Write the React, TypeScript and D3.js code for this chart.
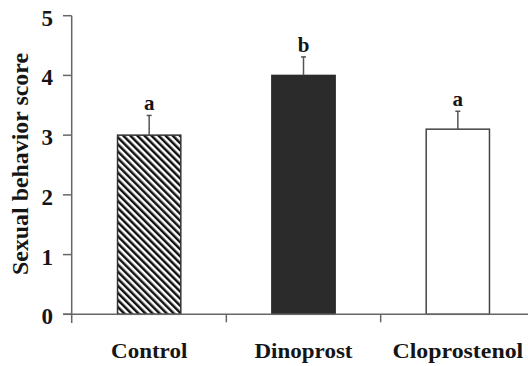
import React from "react";
import * as d3 from "d3";

const categories = ["Control", "Dinoprost", "Cloprostenol"];
const means = [3.0, 4.0, 3.1];
const errors = [0.33, 0.31, 0.3];
const letters = ["a", "b", "a"];
const yTicks = [0, 1, 2, 3, 4, 5];

const W = 528;
const H = 366;
const font = "'Liberation Serif', 'Times New Roman', serif";

export default function App() {
  const x = d3.scaleBand<string>().domain(categories).range([72, 535]);
  const y = d3.scaleLinear().domain([0, 5]).range([314.3, 15.7]);
  const barW = x.bandwidth() * 0.41;
  const axisColor = "#666";
  const ink = "#151515";

  const fills = ["url(#hatch)", "#2b2b2b", "#fff"];
  const strokes = ["#333", "#2b2b2b", "#444"];

  return (
    <svg
      width={W}
      height={H}
      style={{ position: "absolute", left: 0, top: 0, background: "#fff" }}
    >
      <defs>
        <pattern
          id="hatch"
          patternUnits="userSpaceOnUse"
          width={5}
          height={5}
          patternTransform="rotate(-45)"
        >
          <rect width={5} height={5} fill="#fff" />
          <rect width={2.5} height={5} fill="#111" />
        </pattern>
      </defs>

      {/* bars */}
      {categories.map((c, i) => {
        const cx = (x(c) as number) + x.bandwidth() / 2;
        return (
          <g key={c}>
            <rect
              x={cx - barW / 2}
              y={y(means[i])}
              width={barW}
              height={y(0) - y(means[i])}
              fill={fills[i]}
              stroke={strokes[i]}
              strokeWidth={1.5}
            />
            <line
              x1={cx}
              x2={cx}
              y1={y(means[i])}
              y2={y(means[i] + errors[i])}
              stroke="#555"
              strokeWidth={1.5}
            />
            <line
              x1={cx - 2.5}
              x2={cx + 2.5}
              y1={y(means[i] + errors[i])}
              y2={y(means[i] + errors[i])}
              stroke="#555"
              strokeWidth={1.5}
            />
            <text
              x={cx}
              y={y(means[i] + errors[i]) - 5}
              textAnchor="middle"
              fontFamily={font}
              fontWeight="bold"
              fontSize={21}
              fill={ink}
            >
              {letters[i]}
            </text>
            <text
              x={cx}
              y={358}
              textAnchor="middle"
              fontFamily={font}
              fontWeight="bold"
              fontSize={22}
              textLength={c.length * 10.9}
              lengthAdjust="spacingAndGlyphs"
              fill={ink}
            >
              {c}
            </text>
          </g>
        );
      })}

      {/* x axis */}
      <line x1={63} x2={W} y1={y(0)} y2={y(0)} stroke={axisColor} strokeWidth={1.5} />
      {categories.slice(1).map((c) => (
        <line
          key={c}
          x1={x(c) as number}
          x2={x(c) as number}
          y1={y(0)}
          y2={y(0) + 8}
          stroke={axisColor}
          strokeWidth={1.5}
        />
      ))}

      {/* y axis */}
      <line x1={71.7} x2={71.7} y1={y(5)} y2={323} stroke={axisColor} strokeWidth={1.5} />
      {yTicks.map((t) => (
        <g key={t}>
          <line x1={63} x2={71.7} y1={y(t)} y2={y(t)} stroke={axisColor} strokeWidth={1.5} />
          <text
            x={53}
            y={y(t) + 2}
            dy="0.35em"
            textAnchor="end"
            fontFamily={font}
            fontWeight="bold"
            fontSize={23}
            fill={ink}
          >
            {t}
          </text>
        </g>
      ))}

      <text
        transform="translate(28,164) rotate(-90)"
        textAnchor="middle"
        fontFamily={font}
        fontWeight="bold"
        fontSize={23}
        textLength={222}
        lengthAdjust="spacingAndGlyphs"
        fill={ink}
      >
        Sexual behavior score
      </text>
    </svg>
  );
}
